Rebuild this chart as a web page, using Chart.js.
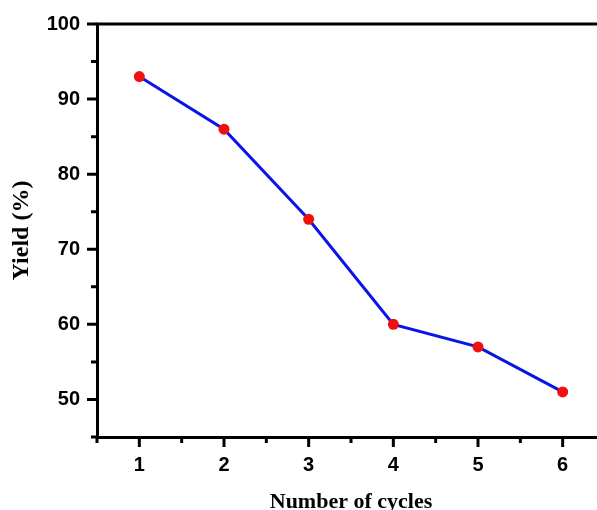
<!DOCTYPE html>
<html>
<head>
<meta charset="utf-8">
<script src="https://cdn.jsdelivr.net/npm/chart.js@4"></script>
<style>
  html, body { margin: 0; padding: 0; background: #fff; overflow: hidden; }
  #wrap { width: 621px; height: 516px; }
</style>
</head>
<body>
<div id="wrap"><canvas id="chart" width="621" height="516"></canvas></div>
<script>
// ── Data ─────────────────────────────────────────────────────────────────────
const cycles = [1, 2, 3, 4, 5, 6];
const yields = [93, 86, 74, 60, 57, 51];

const tickFont = { family: "'Liberation Sans', Arial, sans-serif", size: 20, weight: 'bold' };
const xTitleFont = { family: "'Liberation Serif', 'Times New Roman', serif", size: 22, weight: 'bold' };
const yTitleFont = { family: "'Liberation Serif', 'Times New Roman', serif", size: 24, weight: 'bold' };

// ── Frame + outward ticks (major / minor) ────────────────────────────────────
const frameTicks = {
    id: 'frameTicks',
    afterDraw(chart) {
        const { ctx, chartArea: a, scales } = chart;
        ctx.save();
        ctx.strokeStyle = '#000';
        ctx.lineWidth = 3;
        ctx.lineCap = 'butt';

        // top and right sides of the box
        ctx.beginPath();
        ctx.moveTo(a.left - 1.5, a.top);
        ctx.lineTo(a.right, a.top);
        ctx.lineTo(a.right, a.bottom);
        ctx.stroke();

        ctx.beginPath();
        scales.y.ticks.forEach((t) => {
            const py = scales.y.getPixelForValue(t.value);
            const len = t.value % 10 === 0 ? 10 : 6;
            ctx.moveTo(a.left, py);
            ctx.lineTo(a.left - len, py);
        });
        scales.x.ticks.forEach((t) => {
            const px = scales.x.getPixelForValue(t.value);
            const len = Number.isInteger(t.value) ? 10 : 6;
            ctx.moveTo(px, a.bottom);
            ctx.lineTo(px, a.bottom + len);
        });
        ctx.stroke();
        ctx.restore();
    },
};

new Chart(document.getElementById('chart'), {
    type: 'line',
    data: {
        datasets: [
            {
                data: cycles.map((c, i) => ({ x: c, y: yields[i] })),
                borderColor: '#0a14e6',
                borderWidth: 3,
                pointRadius: 5.5,
                pointBackgroundColor: '#f01010',
                pointBorderWidth: 0,
                tension: 0,
            },
        ],
    },
    options: {
        responsive: false,
        animation: false,
        layout: { padding: { top: 24, right: 16, left: 0, bottom: 0 } },
        plugins: { legend: { display: false }, tooltip: { enabled: false } },
        scales: {
            x: {
                type: 'linear',
                min: 0.5,
                max: 6.5,
                grid: { display: false, drawTicks: false },
                border: { display: true, color: '#000', width: 3 },
                ticks: {
                    stepSize: 0.5,
                    color: '#000',
                    font: tickFont,
                    padding: 16,
                    autoSkip: false,
                    maxRotation: 0,
                    callback: (v) => (Number.isInteger(v) ? v : ''),
                },
                title: {
                    display: true,
                    text: 'Number of cycles',
                    color: '#000',
                    font: xTitleFont,
                    padding: { top: 14, bottom: 0 },
                },
                afterFit: (s) => {
                    s.height = 79;
                    s.paddingLeft = 0;
                    s.paddingRight = 0;
                },
            },
            y: {
                min: 45,
                max: 100,
                grid: { display: false, drawTicks: false },
                border: { display: true, color: '#000', width: 3 },
                ticks: {
                    stepSize: 5,
                    color: '#000',
                    font: tickFont,
                    padding: 17,
                    autoSkip: false,
                    callback: (v) => (v % 10 === 0 ? v : ''),
                },
                title: {
                    display: true,
                    text: 'Yield (%)',
                    color: '#000',
                    font: yTitleFont,
                    padding: { top: 7, bottom: 0 },
                },
                afterFit: (s) => {
                    s.width = 97;
                    s.paddingTop = 0;
                    s.paddingBottom = 0;
                },
            },
        },
    },
    plugins: [frameTicks],
});
</script>
</body>
</html>
